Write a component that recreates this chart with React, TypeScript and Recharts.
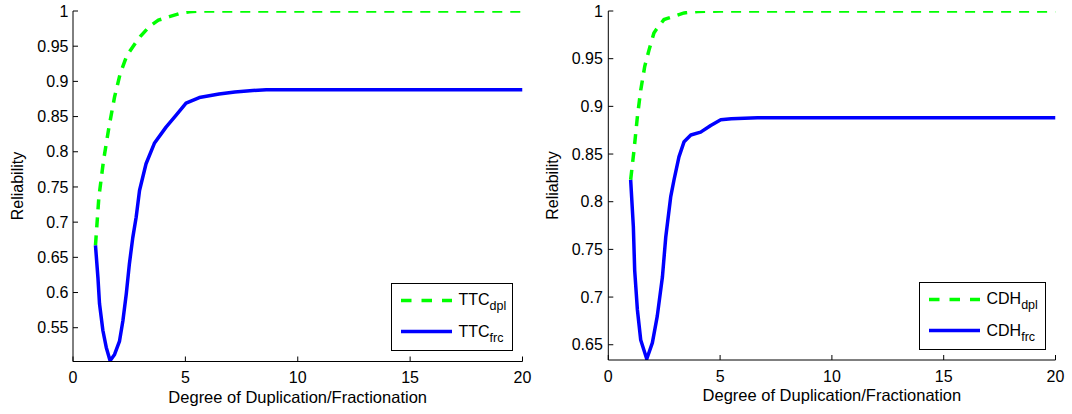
import React from 'react';
import { LineChart, Line, XAxis, YAxis, Legend } from 'recharts';

const FONT = '"Liberation Sans", Arial, Helvetica, sans-serif';

const xTicks = [0, 5, 10, 15, 20];
const ttcYTicks = [0.55, 0.6, 0.65, 0.7, 0.75, 0.8, 0.85, 0.9, 0.95, 1];
const cdhYTicks = [0.65, 0.7, 0.75, 0.8, 0.85, 0.9, 0.95, 1];

// Left panel: TTC
const ttcDplX = [1, 1.15, 1.36, 1.6, 1.85, 2.1, 2.4, 2.81, 3.0, 3.4, 3.8, 4.29, 4.8, 5.18, 5.6, 6, 8, 10, 12, 14, 16, 18, 20];
const ttcDplY = [0.667, 0.735, 0.788, 0.835, 0.878, 0.911, 0.937, 0.956, 0.964, 0.978, 0.987, 0.992, 0.997, 0.999, 1, 1, 1, 1, 1, 1, 1, 1, 1];
const ttcFrcX = [1, 1.11, 1.18, 1.33, 1.48, 1.65, 1.85, 2.07, 2.22, 2.37, 2.51, 2.66, 2.81, 2.96, 3.25, 3.62, 4.14, 4.59, 5.03, 5.62, 6.5, 7.2, 8, 8.6, 10, 12, 14, 16, 18, 20];
const ttcFrcY = [0.667, 0.621, 0.584, 0.546, 0.522, 0.503, 0.512, 0.531, 0.56, 0.598, 0.641, 0.678, 0.707, 0.745, 0.783, 0.812, 0.835, 0.852, 0.869, 0.877, 0.882, 0.885, 0.887, 0.888, 0.888, 0.888, 0.888, 0.888, 0.888, 0.888];

// Right panel: CDH
const cdhDplX = [1, 1.15, 1.3, 1.45, 1.63, 1.82, 2.04, 2.16, 2.49, 2.61, 3.39, 4, 5, 6, 8, 10, 12, 14, 16, 18, 20];
const cdhDplY = [0.823, 0.854, 0.889, 0.917, 0.942, 0.959, 0.977, 0.981, 0.991, 0.992, 0.998, 0.9995, 1, 1, 1, 1, 1, 1, 1, 1, 1];
const cdhFrcX = [1, 1.12, 1.18, 1.3, 1.45, 1.72, 1.97, 2.19, 2.42, 2.57, 2.79, 2.94, 3.16, 3.39, 3.69, 4.13, 4.58, 5.03, 5.5, 6.67, 8, 10, 12, 14, 16, 18, 20];
const cdhFrcY = [0.823, 0.774, 0.728, 0.687, 0.655, 0.635, 0.652, 0.68, 0.721, 0.763, 0.805, 0.823, 0.847, 0.863, 0.87, 0.873, 0.88, 0.886, 0.887, 0.888, 0.888, 0.888, 0.888, 0.888, 0.888, 0.888, 0.888];

const zip = (xs: number[], ys: number[]) => xs.map((x, i) => ({ x, y: ys[i] }));

const GREEN = '#00ff00';
const BLUE = '#0000ff';

const YTitle = (p: any) => (
  <text
    x={p.tx}
    y={p.ty}
    transform={`rotate(-90 ${p.tx} ${p.ty})`}
    textAnchor="middle"
    dominantBaseline="central"
    fontSize={16}
    fontFamily={FONT}
    fill="#000"
  >
    Reliability
  </text>
);

const XTitle = (p: any) => (
  <text x={p.tx} y={p.ty} textAnchor="middle" fontSize={16.5} fontFamily={FONT} fill="#000">
    Degree of Duplication/Fractionation
  </text>
);

const LegendBox = ({ w, h, name }: { w: number; h: number; name: string }) => (
  <svg width={w} height={h} style={{ display: 'block' }}>
    <rect x={0.5} y={0.5} width={w - 1} height={h - 1} fill="#fff" stroke="#000" strokeWidth={1} />
    <line x1={10} x2={61} y1={17.5} y2={17.5} stroke={GREEN} strokeWidth={3.5} strokeDasharray="10.5 10" />
    <line x1={10} x2={61} y1={48.5} y2={48.5} stroke={BLUE} strokeWidth={3.5} />
    <text x={67.5} y={21.5} fontSize={16} fontFamily={FONT} fill="#000">
      {name}
      <tspan dy={5} fontSize={12.5}>dpl</tspan>
    </text>
    <text x={67.5} y={53.5} fontSize={16} fontFamily={FONT} fill="#000">
      {name}
      <tspan dy={5} fontSize={12.5}>frc</tspan>
    </text>
  </svg>
);

const tickStyle = { fill: '#000', fontSize: 16, fontFamily: FONT };
const noTick = () => <g />;

type PanelProps = {
  pageLeft: number;
  width: number;
  yAxisWidth: number;
  rightMargin: number;
  xAxisHeight: number;
  yDomain: [number, number];
  yTicks: number[];
  dpl: { x: number; y: number }[];
  frc: { x: number; y: number }[];
  name: string;
  legendLeft: number;
  legendTop: number;
  legendW: number;
  legendH: number;
  yTitleX: number;
  yTitleY: number;
  xTitleX: number;
  xTitleY: number;
  xTickMargin: number;
  yTickMargin: number;
};

const Panel = (p: PanelProps) => (
  <div style={{ position: 'absolute', left: p.pageLeft, top: 0 }}>
    <LineChart
      width={p.width}
      height={414}
      margin={{ top: 11, right: p.rightMargin, bottom: 0, left: 0 }}
      style={{ fontFamily: FONT }}
    >
      <XAxis
        xAxisId="b"
        type="number"
        dataKey="x"
        domain={[0, 20]}
        ticks={xTicks}
        interval={0}
        allowDataOverflow
        height={p.xAxisHeight}
        tickSize={-5}
        tickMargin={p.xTickMargin}
        stroke="#000"
        tick={tickStyle}
        label={<XTitle tx={p.xTitleX} ty={p.xTitleY} />}
      />
      <XAxis
        xAxisId="t"
        orientation="top"
        type="number"
        dataKey="x"
        domain={[0, 20]}
        ticks={xTicks}
        interval={0}
        allowDataOverflow
        height={0}
        tickSize={-5}
        stroke="#000"
        tick={noTick}
      />
      <YAxis
        yAxisId="l"
        type="number"
        domain={p.yDomain}
        ticks={p.yTicks}
        interval={0}
        allowDataOverflow
        width={p.yAxisWidth}
        tickSize={-5}
        tickMargin={p.yTickMargin}
        stroke="#000"
        tick={tickStyle}
        label={<YTitle tx={p.yTitleX} ty={p.yTitleY} />}
      />
      <YAxis
        yAxisId="r"
        orientation="right"
        type="number"
        domain={p.yDomain}
        ticks={p.yTicks}
        interval={0}
        allowDataOverflow
        width={0}
        tickSize={-5}
        stroke="#000"
        tick={noTick}
      />
      <Line
        xAxisId="b"
        yAxisId="l"
        data={p.dpl}
        dataKey="y"
        type="linear"
        stroke={GREEN}
        strokeWidth={3.5}
        strokeDasharray="10 8"
        dot={false}
        activeDot={false}
        isAnimationActive={false}
        name={`${p.name}dpl`}
      />
      <Line
        xAxisId="b"
        yAxisId="l"
        data={p.frc}
        dataKey="y"
        type="linear"
        stroke={BLUE}
        strokeWidth={3.5}
        strokeLinejoin="round"
        dot={false}
        activeDot={false}
        isAnimationActive={false}
        name={`${p.name}frc`}
      />
      <Legend
        layout="vertical"
        align="center"
        verticalAlign="middle"
        wrapperStyle={{ left: p.legendLeft, top: p.legendTop, width: p.legendW, height: p.legendH }}
        content={() => <LegendBox w={p.legendW} h={p.legendH} name={p.name} />}
      />
    </LineChart>
  </div>
);

export default function App() {
  return (
    <div style={{ position: 'absolute', left: 0, top: 0, width: 1072, height: 414, background: '#fff' }}>
      <Panel
        pageLeft={0}
        width={540}
        yAxisWidth={73}
        rightMargin={17.5}
        xAxisHeight={52.5}
        yDomain={[0.502, 1]}
        yTicks={ttcYTicks}
        dpl={zip(ttcDplX, ttcDplY)}
        frc={zip(ttcFrcX, ttcFrcY)}
        name="TTC"
        legendLeft={391}
        legendTop={283}
        legendW={122}
        legendH={68}
        yTitleX={17.5}
        yTitleY={186}
        xTitleX={297.7}
        xTitleY={402.5}
        xTickMargin={15}
        yTickMargin={9.5}
      />
      <Panel
        pageLeft={536}
        width={536}
        yAxisWidth={72.3}
        rightMargin={16.5}
        xAxisHeight={54}
        yDomain={[0.634, 1]}
        yTicks={cdhYTicks}
        dpl={zip(cdhDplX, cdhDplY)}
        frc={zip(cdhFrcX, cdhFrcY)}
        name="CDH"
        legendLeft={383}
        legendTop={282}
        legendW={127}
        legendH={68}
        yTitleX={16.5}
        yTitleY={185.5}
        xTitleX={295.9}
        xTitleY={400.7}
        xTickMargin={16}
        yTickMargin={10.5}
      />
    </div>
  );
}
